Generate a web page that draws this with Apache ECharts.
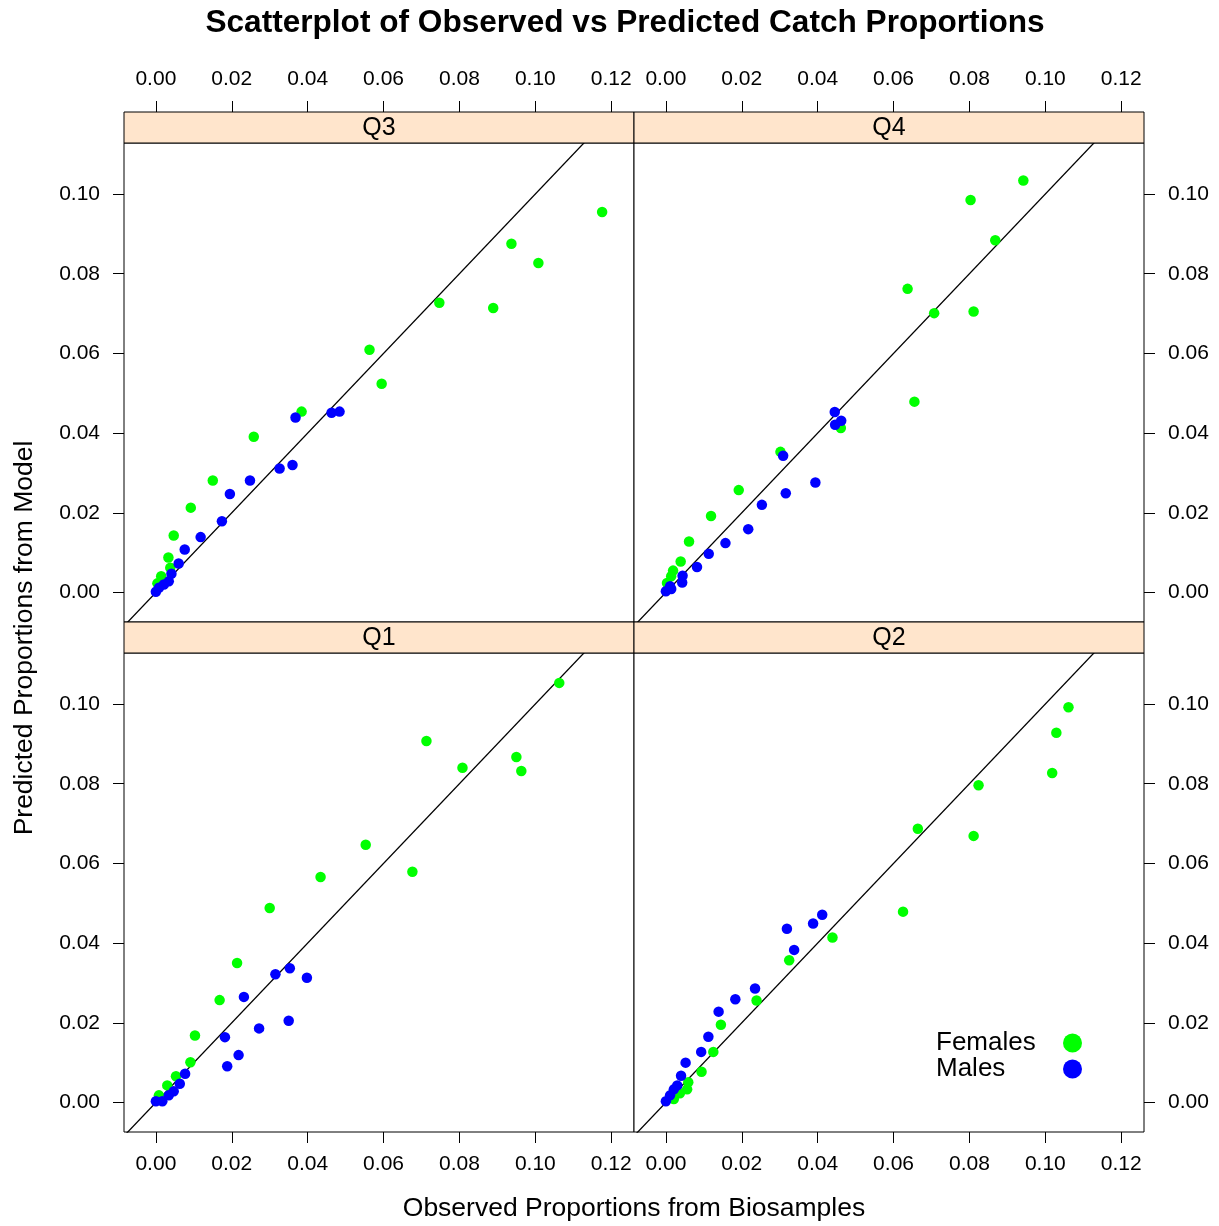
<!DOCTYPE html>
<html>
<head>
<meta charset="utf-8">
<script src="https://cdn.jsdelivr.net/npm/echarts@6/dist/echarts.min.js"></script>
<style>
html,body{margin:0;padding:0;background:#fff;}
#chart{width:1219px;height:1226px;}
</style>
</head>
<body>
<div id="chart"></div>
<script>
// ---------- data: [observed, predicted] ----------
const panelNames = ['Q3', 'Q4', 'Q1', 'Q2'];
const groupNames = ['Females', 'Males'];
const xTickValues = [0, 0.02, 0.04, 0.06, 0.08, 0.10, 0.12];
const yTickValues = [0, 0.02, 0.04, 0.06, 0.08, 0.10];

const q3Females = [[0.1176,0.0955],[0.0937,0.0875],[0.1008,0.0827],[0.0747,0.0727],[0.0889,0.0714],[0.0563,0.0609],[0.0595,0.0524],[0.0384,0.0454],[0.0258,0.0391],[0.0150,0.0281],[0.0092,0.0213],[0.0047,0.0143],[0.0033,0.0088],[0.0038,0.0062],[0.0014,0.0041],[0.0004,0.0023]];
const q3Males = [[0.0368,0.0439],[0.0463,0.0451],[0.0484,0.0454],[0.0360,0.0320],[0.0326,0.0311],[0.0248,0.0281],[0.0195,0.0247],[0.0174,0.0179],[0.0118,0.0139],[0.0076,0.0108],[0.0060,0.0073],[0.0041,0.0047],[0.0034,0.0028],[0.0021,0.0020],[0.0008,0.0012],[0.0000,0.0002]];

const q4Females = [[0.0942,0.1034],[0.0803,0.0985],[0.0868,0.0884],[0.0637,0.0762],[0.0707,0.0701],[0.0811,0.0705],[0.0655,0.0479],[0.0461,0.0413],[0.0302,0.0353],[0.0192,0.0257],[0.0119,0.0192],[0.0061,0.0128],[0.0039,0.0078],[0.0019,0.0055],[0.0014,0.0041],[0.0003,0.0024]];
const q4Males = [[0.0445,0.0453],[0.0462,0.0431],[0.0446,0.0421],[0.0309,0.0343],[0.0394,0.0276],[0.0316,0.0249],[0.0253,0.0220],[0.0217,0.0159],[0.0157,0.0124],[0.0113,0.0097],[0.0082,0.0064],[0.0044,0.0042],[0.0043,0.0025],[0.0011,0.0016],[0.0014,0.0009],[0.0000,0.0003]];

const q1Females = [[0.1063,0.1053],[0.0713,0.0907],[0.0808,0.0840],[0.0950,0.0867],[0.0963,0.0832],[0.0553,0.0647],[0.0676,0.0579],[0.0434,0.0566],[0.0300,0.0488],[0.0214,0.0350],[0.0168,0.0257],[0.0103,0.0168],[0.0091,0.0101],[0.0053,0.0066],[0.0030,0.0043],[0.0008,0.0018]];
const q1Males = [[0.0353,0.0337],[0.0315,0.0322],[0.0398,0.0313],[0.0232,0.0265],[0.0182,0.0164],[0.0272,0.0186],[0.0350,0.0205],[0.0218,0.0119],[0.0188,0.0091],[0.0077,0.0072],[0.0063,0.0047],[0.0047,0.0028],[0.0034,0.0018],[0.0017,0.0003],[0.0000,0.0003]];

const q2Females = [[0.1061,0.0992],[0.1029,0.0928],[0.1018,0.0827],[0.0824,0.0796],[0.0811,0.0669],[0.0664,0.0687],[0.0625,0.0479],[0.0439,0.0414],[0.0325,0.0357],[0.0239,0.0256],[0.0145,0.0195],[0.0125,0.0127],[0.0094,0.0077],[0.0059,0.0051],[0.0056,0.0033],[0.0037,0.0023],[0.0021,0.0009]];
const q2Males = [[0.0412,0.0471],[0.0388,0.0449],[0.0319,0.0436],[0.0338,0.0383],[0.0235,0.0286],[0.0183,0.0259],[0.0139,0.0228],[0.0112,0.0165],[0.0093,0.0127],[0.0052,0.0100],[0.0040,0.0067],[0.0030,0.0043],[0.0021,0.0033],[0.0011,0.0018],[0.0000,0.0003]];

const identityLine = [[-0.02,-0.02],[0.14,0.14]];

// ---------- layout / style ----------
const FONT = '"Liberation Sans", Arial, Helvetica, sans-serif';
const X_MIN = -0.0084, X_MAX = 0.1260;
const Y_MIN = -0.0074, Y_MAX = 0.1128;
const COLORS = {Females: '#00FF00', Males: '#0000FF'};
const PANEL_W = 510, PANEL_H = 479, STRIP_H = 31;
const LEFT0 = 124, TOP0 = 112;

const panelData = {
  Q3: {Females: q3Females, Males: q3Males},
  Q4: {Females: q4Females, Males: q4Males},
  Q1: {Females: q1Females, Males: q1Males},
  Q2: {Females: q2Females, Males: q2Males}
};

const grids = [], xAxes = [], yAxes = [], series = [], graphics = [];

panelNames.forEach(function (name, i) {
  const col = i % 2, row = Math.floor(i / 2);
  const left = LEFT0 + col * PANEL_W;
  const stripTop = TOP0 + row * (PANEL_H + STRIP_H);
  const top = stripTop + STRIP_H;
  grids.push({
    left: left, top: top, width: PANEL_W, height: PANEL_H,
    show: true, borderColor: '#000', borderWidth: 1, backgroundColor: '#fff',
    containLabel: false, outerBoundsMode: 'none'
  });
  const isTop = row === 0;
  xAxes.push({
    type: 'value', gridIndex: i, min: X_MIN, max: X_MAX,
    position: isTop ? 'top' : 'bottom', offset: isTop ? STRIP_H : 0,
    axisLine: {show: false, onZero: false},
    axisTick: {show: true, inside: false, length: 11, customValues: xTickValues, lineStyle: {color: '#000', width: 1}},
    axisLabel: {show: true, customValues: xTickValues, margin: 22, color: '#000', fontSize: 21, fontFamily: FONT,
      formatter: function (v) { return v.toFixed(2); }},
    splitLine: {show: false}
  });
  yAxes.push({
    type: 'value', gridIndex: i, min: Y_MIN, max: Y_MAX,
    position: col === 0 ? 'left' : 'right',
    axisLine: {show: false, onZero: false},
    axisTick: {show: true, inside: false, length: 11, customValues: yTickValues, lineStyle: {color: '#000', width: 1}},
    axisLabel: {show: true, customValues: yTickValues, margin: 24, color: '#000', fontSize: 21, fontFamily: FONT,
      formatter: function (v) { return v.toFixed(2); }},
    splitLine: {show: false}
  });
  series.push({
    name: 'identity', type: 'line', xAxisIndex: i, yAxisIndex: i,
    data: identityLine, symbol: 'none', clip: true, silent: true, z: 1,
    lineStyle: {color: '#000', width: 1.3}
  });
  groupNames.forEach(function (g, gi) {
    series.push({
      name: g, type: 'scatter', xAxisIndex: i, yAxisIndex: i,
      data: panelData[name][g], symbol: 'circle', symbolSize: 10.5, z: 2 + gi,
      itemStyle: {color: COLORS[g], opacity: 1}
    });
  });
  // strip
  graphics.push({
    type: 'rect', shape: {x: left, y: stripTop, width: PANEL_W, height: STRIP_H},
    style: {fill: '#FFE5CC', stroke: '#000', lineWidth: 1}, z: 10
  });
  graphics.push({
    type: 'text', x: left + PANEL_W / 2, y: stripTop + STRIP_H / 2 + 1,
    style: {text: name, font: '25px ' + FONT, fill: '#000', textAlign: 'center', textVerticalAlign: 'middle'}, z: 11
  });
});

// titles
graphics.push({
  type: 'text', x: 625, y: 23,
  style: {text: 'Scatterplot of Observed vs Predicted Catch Proportions', font: 'bold 31.6px ' + FONT,
    fill: '#000', textAlign: 'center', textVerticalAlign: 'middle'}
});
graphics.push({
  type: 'text', x: 634, y: 1209,
  style: {text: 'Observed Proportions from Biosamples', font: '26.5px ' + FONT,
    fill: '#000', textAlign: 'center', textVerticalAlign: 'middle'}
});
graphics.push({
  type: 'text', x: 25, y: 638, rotation: Math.PI / 2,
  style: {text: 'Predicted Proportions from Model', font: '26.5px ' + FONT,
    fill: '#000', textAlign: 'center', textVerticalAlign: 'middle'}
});

const chart = echarts.init(document.getElementById('chart'), null, {renderer: 'canvas'});
chart.setOption({
  animation: false,
  backgroundColor: '#fff',
  grid: grids,
  xAxis: xAxes,
  yAxis: yAxes,
  series: series,
  legend: {
    data: groupNames, orient: 'vertical', align: 'right', right: 137, top: 1030,
    itemWidth: 19, itemHeight: 19, itemGap: 0, icon: 'circle', padding: 0, selectedMode: false,
    formatter: '{a|{name}}',
    textStyle: {
      fontSize: 26, lineHeight: 26, color: '#000', fontFamily: FONT,
      rich: {a: {width: 122, align: 'left', fontSize: 26, lineHeight: 26, fontFamily: FONT, color: '#000'}}
    }
  },
  graphic: graphics
});
</script>
</body>
</html>
